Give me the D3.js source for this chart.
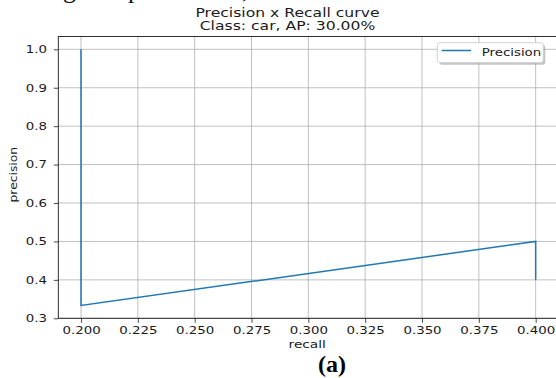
<!DOCTYPE html>
<html>
<head>
<meta charset="utf-8">
<script src="https://cdn.jsdelivr.net/npm/d3@7"></script>
<style>
  body { margin: 0; background: #fff; }
  svg { display: block; }
  text { font-family: "DejaVu Sans", sans-serif; fill: #1a1a1a; }
</style>
</head>
<body>
<script>
// data
const recall = [0.2, 0.2, 0.4, 0.4];
const precision = [1.0, 0.3333, 0.5, 0.4];
const xTicks = [0.2, 0.225, 0.25, 0.275, 0.3, 0.325, 0.35, 0.375, 0.4];
const yTicks = [0.3, 0.4, 0.5, 0.6, 0.7, 0.8, 0.9, 1.0];
const titleLines = ["Precision x Recall curve", "Class: car, AP: 30.00%"];
const seriesName = "Precision";

const W = 556, H = 378;
const SX = 1.27; // text in the figure is a bit wide

const svg = d3.select("body").append("svg")
    .attr("width", W)
    .attr("height", H);

// cut-off line of the page text above the figure (only descenders show)
svg.append("text")
    .attr("x", 63 - 8.221 * 26)
    .attr("y", -2)
    .style("font-family", "'Liberation Serif', serif")
    .style("font-size", "26px")
    .style("fill", "#111")
    .text("curves obtained using two parameters, the results for the class car are shown in");

const m = {left: 58.3, right: 558.4, top: 36.5, bottom: 318.3};

const x = d3.scaleLinear().domain([0.19, 0.41]).range([m.left, m.right]);
const y = d3.scaleLinear().domain([0.3, 1.03333]).range([m.bottom, m.top]);

// grid
svg.append("g")
    .selectAll("line")
    .data(xTicks)
    .join("line")
    .attr("x1", d => x(d)).attr("x2", d => x(d))
    .attr("y1", m.top).attr("y2", m.bottom)
    .attr("stroke", "#b0b0b0").attr("stroke-width", 0.8);

svg.append("g")
    .selectAll("line")
    .data(yTicks)
    .join("line")
    .attr("x1", m.left).attr("x2", m.right)
    .attr("y1", d => y(d)).attr("y2", d => y(d))
    .attr("stroke", "#b0b0b0").attr("stroke-width", 0.8);

// the curve
const pts = recall.map((r, i) => [r, precision[i]]);
svg.append("path")
    .datum(pts)
    .attr("fill", "none")
    .attr("stroke", "#1f77b4")
    .attr("stroke-width", 1.5)
    .attr("d", d3.line().x(d => x(d[0])).y(d => y(d[1])));

// widen text along its own x direction
function stretch(sel, sx) {
    sel.each(function () {
        const t = d3.select(this);
        const tx = +t.attr("x") || 0;
        t.attr("x", 0).attr("transform", `translate(${tx},0) scale(${sx},1)`);
    });
}

let xAxis = g => g
    .attr("transform", `translate(0,${m.bottom})`)
    .call(d3.axisBottom(x).tickValues(xTicks).tickFormat(d3.format(".3f"))
        .tickSize(4.5).tickPadding(3.7))
    .call(g => g.select(".domain").remove())
    .call(g => g.selectAll(".tick line").attr("stroke", "#1a1a1a").attr("stroke-width", 0.8))
    .call(g => g.selectAll(".tick text").style("font-size", "10.5px")
        .style("font-family", "'DejaVu Sans', sans-serif").attr("fill", "#1a1a1a")
        .call(stretch, SX));

let yAxis = g => g
    .attr("transform", `translate(${m.left},0)`)
    .call(d3.axisLeft(y).tickValues(yTicks).tickFormat(d3.format(".1f"))
        .tickSize(4.5).tickPadding(6.8))
    .call(g => g.select(".domain").remove())
    .call(g => g.selectAll(".tick line").attr("stroke", "#1a1a1a").attr("stroke-width", 0.8))
    .call(g => g.selectAll(".tick text").style("font-size", "10.5px")
        .style("font-family", "'DejaVu Sans', sans-serif").attr("fill", "#1a1a1a")
        .call(stretch, SX));

svg.append("g").call(xAxis);
svg.append("g").call(yAxis);

// spines
svg.append("rect")
    .attr("x", m.left).attr("y", m.top)
    .attr("width", m.right - m.left).attr("height", m.bottom - m.top)
    .attr("fill", "none").attr("stroke", "#1a1a1a").attr("stroke-width", 0.9);

// titles
titleLines.forEach((s, i) => {
    svg.append("text")
        .attr("text-anchor", "middle")
        .attr("transform", `translate(287.5,${17.3 + i * 12.9}) scale(${SX},1)`)
        .style("font-size", "12.3px")
        .text(s);
});

// axis labels
svg.append("text")
    .attr("text-anchor", "middle")
    .attr("transform", `translate(307.2,348.3) scale(${SX},1)`)
    .style("font-size", "10.8px")
    .text("recall");

svg.append("text")
    .attr("text-anchor", "middle")
    .attr("transform", `translate(17,174.7) rotate(-90) scale(${SX},1)`)
    .style("font-size", "9.7px")
    .text("precision");

// legend
const lg = svg.append("g");
lg.append("rect")
    .attr("x", 439.3).attr("y", 44.7).attr("width", 106).attr("height", 20)
    .attr("rx", 3).attr("fill", "#8a8a8a").attr("opacity", 0.5);
lg.append("rect")
    .attr("x", 437.3).attr("y", 42.7).attr("width", 106).attr("height", 20)
    .attr("rx", 3).attr("fill", "#fff").attr("stroke", "#cccccc").attr("stroke-width", 0.9);
lg.append("line")
    .attr("x1", 441.7).attr("x2", 471).attr("y1", 50.5).attr("y2", 50.5)
    .attr("stroke", "#1f77b4").attr("stroke-width", 1.5);
lg.append("text")
    .attr("transform", `translate(481.7,55.5) scale(${SX},1)`)
    .style("font-size", "10.5px")
    .text(seriesName);

// caption below the figure
svg.append("text")
    .attr("x", 332).attr("y", 372)
    .attr("text-anchor", "middle")
    .style("font-family", "'Liberation Serif', serif")
    .style("font-weight", "bold")
    .style("font-size", "24px")
    .style("fill", "#000")
    .text("(a)");
</script>
</body>
</html>
